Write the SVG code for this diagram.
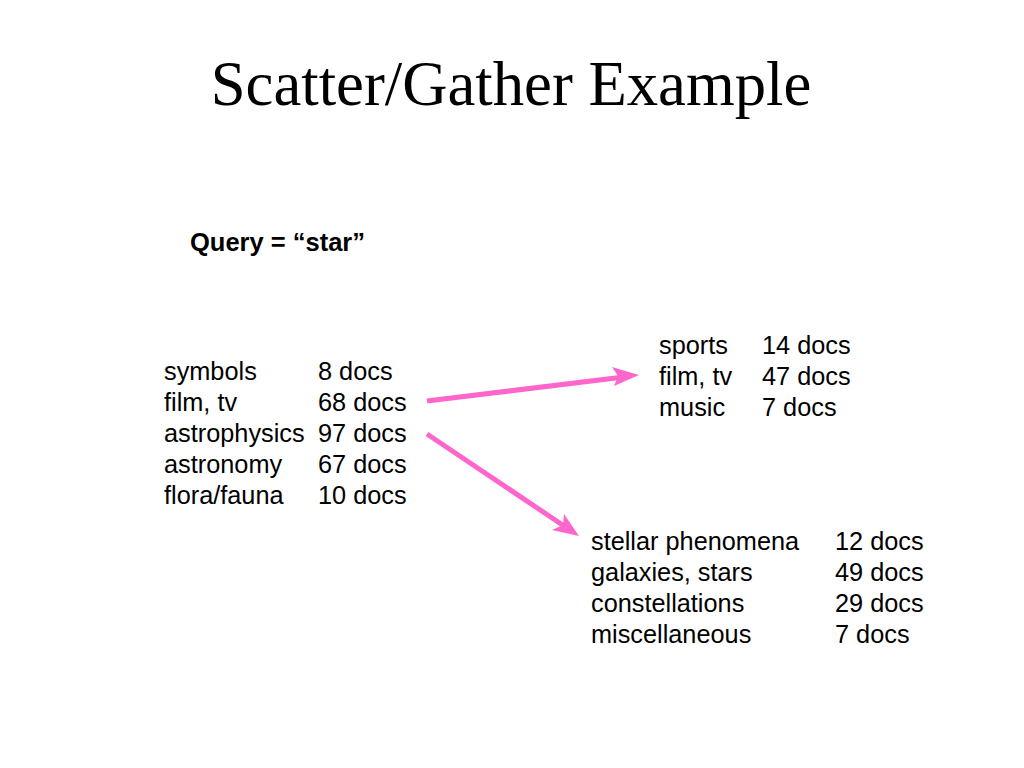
<svg xmlns="http://www.w3.org/2000/svg" width="1024" height="768" viewBox="0 0 1024 768">
<defs>
<style>
.t{font-family:"Liberation Sans",Arial,sans-serif;font-size:25.3px;fill:#000}
.title{font-family:"Liberation Serif","Times New Roman",serif;font-size:62.7px;fill:#000}
.q{font-family:"Liberation Sans",Arial,sans-serif;font-size:25.5px;font-weight:bold;fill:#000}
.arr{stroke:#FF66CC;stroke-width:5;fill:none;stroke-linecap:butt}
.head{fill:#FF66CC}
</style>
</defs>
<rect width="1024" height="768" fill="#fff"/>
<text class="title" x="511" y="105" text-anchor="middle">Scatter/Gather Example</text>
<text class="q" x="190" y="251">Query = “star”</text>
<g id="clusters-left">
<text class="t" x="164" y="380">symbols</text><text class="t" x="318" y="380">8 docs</text>
<text class="t" x="164" y="411">film, tv</text><text class="t" x="318" y="411">68 docs</text>
<text class="t" x="164" y="442">astrophysics</text><text class="t" x="318" y="442">97 docs</text>
<text class="t" x="164" y="473">astronomy</text><text class="t" x="318" y="473">67 docs</text>
<text class="t" x="164" y="504">flora/fauna</text><text class="t" x="318" y="504">10 docs</text>
</g>
<g id="clusters-top">
<text class="t" x="659" y="354">sports</text><text class="t" x="762" y="354">14 docs</text>
<text class="t" x="659" y="385">film, tv</text><text class="t" x="762" y="385">47 docs</text>
<text class="t" x="659" y="416">music</text><text class="t" x="762" y="416">7 docs</text>
</g>
<g id="clusters-bottom">
<text class="t" x="591" y="550">stellar phenomena</text><text class="t" x="835" y="550">12 docs</text>
<text class="t" x="591" y="581">galaxies, stars</text><text class="t" x="835" y="581">49 docs</text>
<text class="t" x="591" y="612">constellations</text><text class="t" x="835" y="612">29 docs</text>
<text class="t" x="591" y="643">miscellaneous</text><text class="t" x="835" y="643">7 docs</text>
</g>
<g id="connectors">
<line class="arr" x1="427" y1="401" x2="628" y2="376.5"/>
<path class="head" d="M639,375 L612,367 L618,376 L614,386 Z"/>
<line class="arr" x1="427" y1="434" x2="570" y2="530"/>
<path class="head" d="M579,536 L552,530 L563,525 L564,514 Z"/>
</g>
</svg>
